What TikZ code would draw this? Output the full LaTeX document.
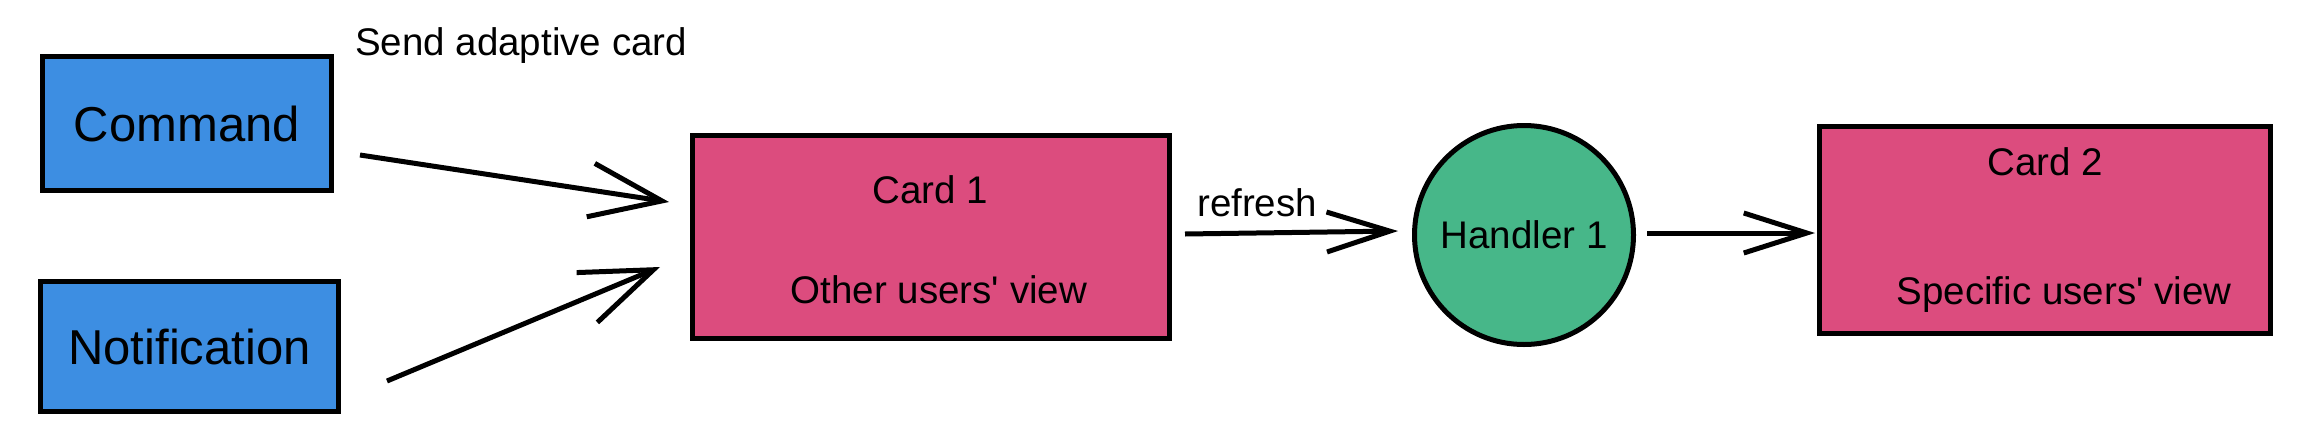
\documentclass[tikz,border=0pt]{standalone}
\usepackage{fontspec}
\setmainfont{Liberation Sans}
\usetikzlibrary{arrows.meta}
\definecolor{cmdblue}{RGB}{61,142,226}
\definecolor{cardpink}{RGB}{220,76,126}
\definecolor{handgreen}{RGB}{71,183,137}
\begin{document}
\begin{tikzpicture}[x=1pt,y=-1pt,
  box/.style={draw=black, line width=5pt, inner sep=0pt},
  srcbox/.style={box, fill=cmdblue, font=\fontsize{49}{58}\selectfont},
  cardbox/.style={box, fill=cardpink},
  handler/.style={circle, draw=black, line width=5pt, fill=handgreen, minimum size=219pt, inner sep=0pt, font=\fontsize{38.5}{46}\selectfont},
  lbl/.style={font=\fontsize{38.5}{46}\selectfont, inner sep=0pt, anchor=base},
  conn/.style={line width=5pt, -{Straight Barb[length=72pt,width=54pt,sharp]}},
  connh/.style={line width=5pt, -{Straight Barb[length=63pt,width=40pt,sharp]}}]
\useasboundingbox (0,0) rectangle (2302,437);
\node[srcbox, minimum width=289pt, minimum height=134pt] (cmd) at (187,123.5) {Command};
\node[srcbox, minimum width=298pt, minimum height=130pt] (notif) at (189.5,346.5) {Notification};
\node[cardbox, minimum width=477pt, minimum height=203pt] (card1) at (931,237) {};
\node[handler] (h1) at (1524,235) {Handler 1};
\node[cardbox, minimum width=451pt, minimum height=207pt] (card2) at (2045,230) {};
\node[lbl] (c1t) at (930,203) {Card 1};
\node[lbl] (c1v) at (939,303) {Other users\textquotesingle\ view};
\node[lbl] (c2t) at (2045,175) {Card 2};
\node[lbl] (c2v) at (2064,304) {Specific users\textquotesingle\ view};
\node[lbl, anchor=base west] (send) at (355,55) {Send adaptive card};
\node[lbl, anchor=base west] (refresh) at (1197,216) {refresh};
\draw[conn] ([shift={(26,31.5)}]cmd.east) -- ([shift={(-21,-35)}]card1.west);
\draw[conn] ([shift={(46,34.5)}]notif.east) -- ([shift={(-30,30)}]card1.west);
\draw[connh] ([shift={(13,-3)}]card1.east) -- ([shift={(-14,-4)}]h1.west);
\draw[connh] ([shift={(11,-2)}]h1.east) -- ([shift={(-2,3)}]card2.west);
\end{tikzpicture}
\end{document}
